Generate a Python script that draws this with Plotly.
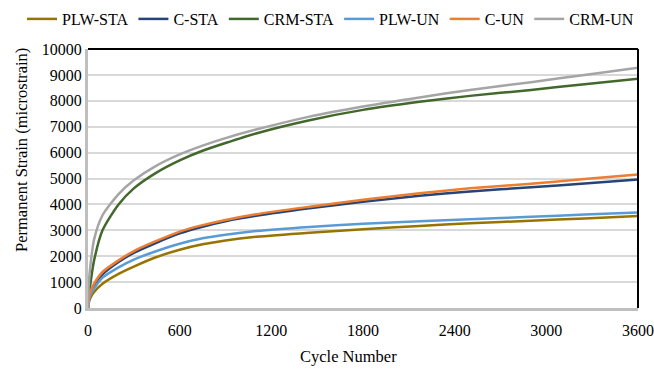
import plotly.graph_objects as go

# Cycle numbers at which permanent strain was sampled
cycles = [0, 5, 15, 40, 95, 200, 300, 440, 600, 750, 900, 1100, 1450, 1800, 2170, 2500, 2900, 3250, 3600]

# Permanent strain (microstrain) for each mixture / condition
plw_sta = [0, 200, 380, 620, 940, 1320, 1600, 1950, 2250, 2460, 2610, 2750, 2910, 3040, 3170, 3270, 3370, 3460, 3550]
c_sta = [0, 300, 570, 880, 1300, 1780, 2130, 2500, 2880, 3140, 3350, 3560, 3850, 4100, 4330, 4500, 4660, 4810, 4960]
crm_sta = [0, 400, 900, 1840, 3000, 4000, 4620, 5200, 5700, 6070, 6370, 6740, 7250, 7650, 7960, 8190, 8420, 8640, 8850]
plw_un = [0, 260, 480, 750, 1170, 1570, 1870, 2180, 2480, 2690, 2830, 2970, 3130, 3250, 3350, 3430, 3520, 3610, 3690]
c_un = [0, 330, 620, 940, 1390, 1840, 2200, 2570, 2950, 3200, 3400, 3620, 3910, 4180, 4430, 4620, 4800, 4980, 5150]
crm_un = [0, 900, 1600, 2650, 3580, 4400, 4930, 5470, 5930, 6270, 6560, 6890, 7390, 7780, 8130, 8420, 8720, 9000, 9280]

x_ticks = [0, 600, 1200, 1800, 2400, 3000, 3600]
y_ticks = [0, 1000, 2000, 3000, 4000, 5000, 6000, 7000, 8000, 9000, 10000]

series = [
    ("PLW-STA", plw_sta, "#997300"),
    ("C-STA", c_sta, "#264478"),
    ("CRM-STA", crm_sta, "#43682B"),
    ("PLW-UN", plw_un, "#5B9BD5"),
    ("C-UN", c_un, "#ED7D31"),
    ("CRM-UN", crm_un, "#A5A5A5"),
]

fig = go.Figure()
for name, vals, color in series:
    fig.add_trace(go.Scatter(
        x=cycles, y=vals, name=name, mode="lines",
        line=dict(color=color, width=2.5, shape="spline", smoothing=0.7),
    ))

serif = "Liberation Serif, Times New Roman, serif"

fig.update_layout(
    width=654, height=369,
    margin=dict(l=88, r=16, t=49, b=61, autoexpand=False),
    paper_bgcolor="#FFFFFF", plot_bgcolor="#FFFFFF",
    font=dict(family=serif, size=16, color="#000000"),
    showlegend=True,
    legend=dict(
        orientation="h", xref="paper", yref="paper",
        x=(22 - 88) / 550, xanchor="left", y=1 + (49 - 19) / 259, yanchor="middle",
        font=dict(family=serif, size=16, color="#000000"),
        itemwidth=30, traceorder="normal",
        bgcolor="rgba(0,0,0,0)",
    ),
    xaxis=dict(
        range=[0, 3600], tickvals=x_ticks, ticks="", showgrid=False,
        showline=True, linecolor="#BFBFBF", linewidth=3, zeroline=False,
        tickfont=dict(family=serif, size=16), ticklabelstandoff=6,
    ),
    yaxis=dict(
        range=[0, 10000], tickvals=y_ticks, tickformat="d", ticks="", showgrid=True,
        gridcolor="#D9D9D9", gridwidth=1.5,
        showline=True, linecolor="#BFBFBF", linewidth=3, zeroline=False,
        tickfont=dict(family=serif, size=16), ticklabelstandoff=0,
    ),
    annotations=[
        dict(text="Cycle Number", xref="paper", yref="paper",
             x=(348 - 88) / 550, y=-(356 - 308) / 259, xanchor="center", yanchor="middle",
             showarrow=False, font=dict(family=serif, size=16.5, color="#000000")),
        dict(text="Permanent Strain (microstrain)", xref="paper", yref="paper",
             x=-(88 - 21) / 550, y=(308 - 150) / 259, xanchor="center", yanchor="middle",
             textangle=-90, showarrow=False,
             font=dict(family=serif, size=16.5, color="#000000")),
    ],
)

# Black frame along the top and right edges of the plotting area
fig.add_shape(type="line", xref="x domain", yref="y domain", x0=0, x1=1, y0=1, y1=1,
              line=dict(color="#000000", width=2))
fig.add_shape(type="line", xref="x domain", yref="y domain", x0=1, x1=1, y0=0, y1=1,
              line=dict(color="#000000", width=2))

fig.write_html("out.html")
